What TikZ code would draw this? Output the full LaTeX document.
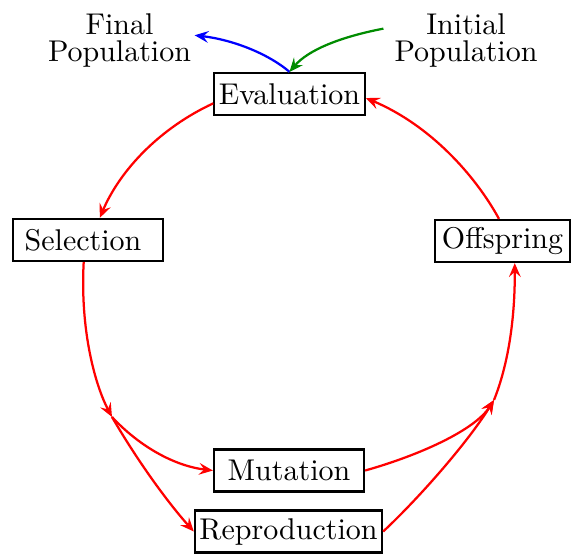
\documentclass[tikz,border=0pt]{standalone}
\usetikzlibrary{arrows.meta}
\begin{document}
\begin{tikzpicture}[x=0.3333pt,y=-0.3333pt,
  stage/.style={draw, line width=0.75pt, minimum width=50pt, minimum height=14pt,
                inner xsep=1.5pt, inner ysep=2pt},
  poptext/.style={align=center, inner sep=1pt},
  flow/.style={line width=0.75pt, -{Stealth[length=4.6pt,width=3.9pt,inset=1.7pt]}},
]
\useasboundingbox (0,0) rectangle (571,553);

% the stages of the cycle
\node[stage] (eval) at (289.5,94)  {Evaluation};
\node[stage] (sel)  at (88,240)    {Selection\kern3.3pt};
\node[stage, minimum width=0pt, inner xsep=2.2pt] (off) at (502.5,241) {Offspring};
\node[stage] (mut)  at (289,470.5) {Mutation};
\node[stage] (rep)  at (288.5,531.5) {Reproduction};

% populations entering and leaving
\node[poptext] (final) at (119.5,40.5) {Final\\[-3.3pt]Population};
\node[poptext] (init)  at (466,40.5)   {Initial\\[-3.3pt]Population};

% branch points of the variation step
\coordinate (j1) at (112,417);
\coordinate (j2) at (494,400);

% cycle
\draw[flow, red] (eval.187) .. controls (160,128) and (120,170) .. (sel.62);
\draw[flow, red] (sel.259) .. controls (80,330) and (95,385) .. (j1);
\draw[flow, red] (j1) .. controls (140,447) and (175,466) .. (mut.west);
\draw[flow, red] (j1) .. controls (140,465) and (170,505) .. (rep.west);
\draw[flow, red] (mut.east) .. controls (420,455) and (475,430) .. (j2);
\draw[flow, red] (rep.east) .. controls (420,497) and (468,442) .. (j2);
\draw[flow, red] (j2) .. controls (508,365) and (515,320) .. (off.299);
\draw[flow, red] (off.99) .. controls (475,175) and (430,125) .. (eval.-3);

% in and out
\draw[flow, blue] (eval.north) .. controls (270,55) and (235,40) .. (final.4);
\draw[flow, green!55!black] ([xshift=-2.5pt]init.171) .. controls (340,37) and (308,50) .. (eval.north);
\end{tikzpicture}
\end{document}
